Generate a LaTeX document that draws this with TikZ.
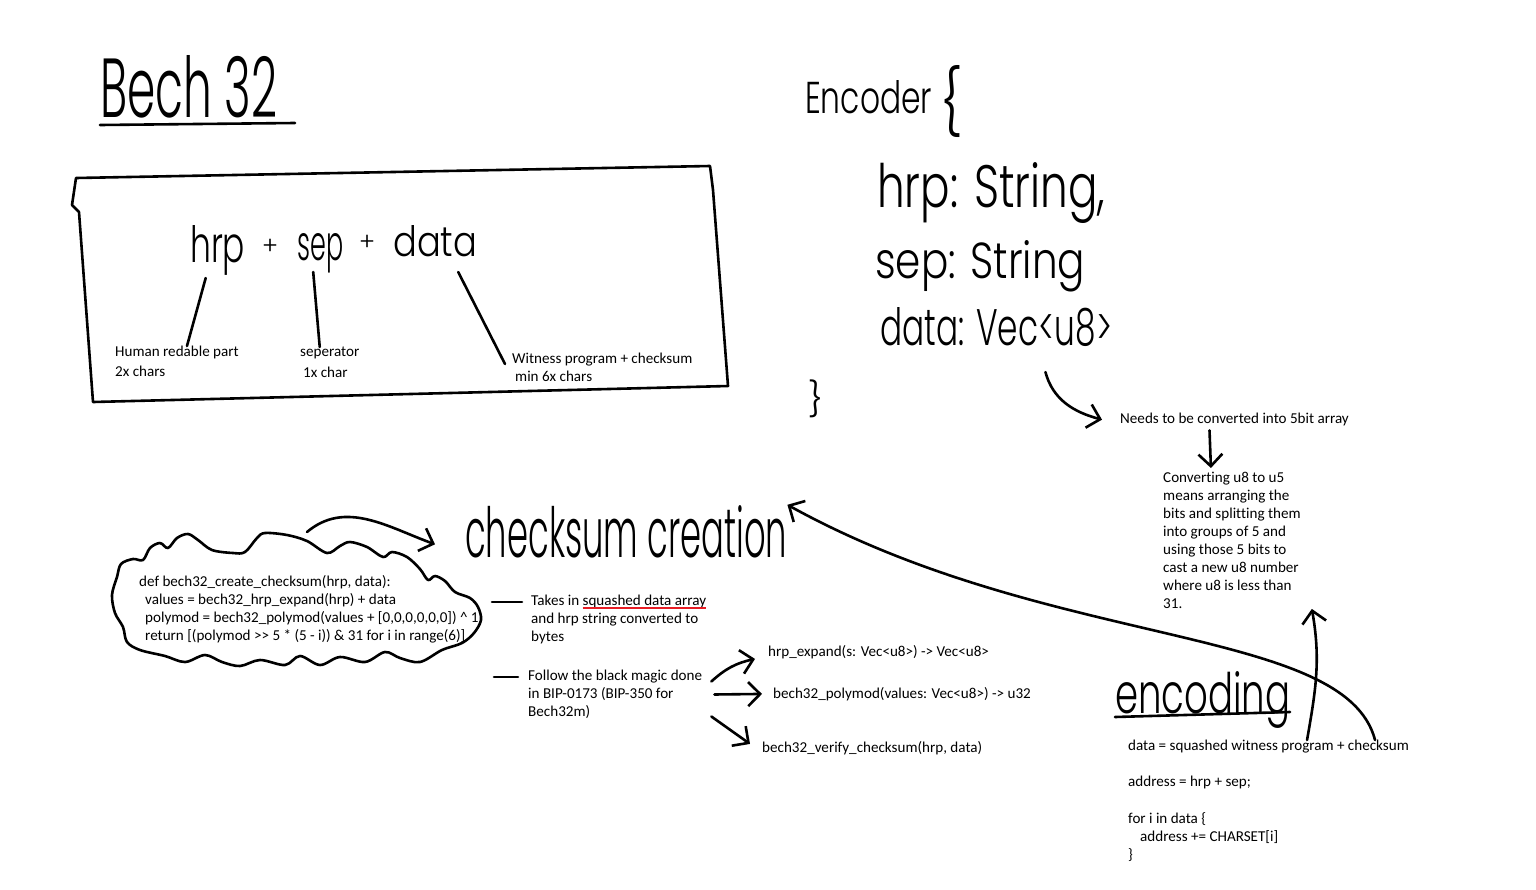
\documentclass[tikz,border=0pt]{standalone}
\usepackage{fontspec}
\setmainfont{Carlito}[Ligatures=NoCommon]
\newfontfamily\handfont{Poppins Light}
\usetikzlibrary{arrows.meta}
\usetikzlibrary{calc}

\definecolor{squigred}{RGB}{232,28,36}
\newcommand\notesize{\fontsize{15.1}{18}\selectfont}
% red pen stroke under a few words
\newcommand\squig[1]{\setbox0\hbox{#1}\copy0\llap{\color{squigred}\rule[-3.4pt]{\wd0}{2.1pt}}}

\begin{document}
\begin{tikzpicture}[
	x=1pt, y=-1pt,
	pen/.style={line width=2.6pt, line cap=round, line join=round},
	arr/.style={pen, -{Straight Barb[length=12pt, width=24pt]}},
	note/.style={inner sep=0pt, anchor=north west, align=left, font=\notesize, yshift=-2pt},
	hand/.style={inner sep=0pt, anchor=base west},
	brace/.style={inner sep=0pt, anchor=north west}]

\fill[white] (0,0) rectangle (1536,889);
\useasboundingbox (0,0) rectangle (1536,889);

% Title
\node[hand] (bech) at (100,117) {\resizebox{177pt}{62pt}{\handfont Bech 32}};
\draw[pen] (100,125) -- (295,123);

% Address layout box
\draw[pen] (76,178) -- (710,166) -- (713,190) -- (728,386) -- (93,402)
	-- (79,212) -- (72,205) -- cycle;

\node[hand] (hrp) at (190,262) {\resizebox{55pt}{37pt}{\handfont hrp}};
\node[inner sep=0pt] (plusA) at (270,247) {\resizebox{16pt}{!}{\handfont +}};
\node[hand] (sep) at (297,260) {\resizebox{46pt}{27pt}{\handfont sep}};
\node[inner sep=0pt] (plusB) at (367,243) {\resizebox{16pt}{!}{\handfont +}};
\node[hand] (data) at (393,256) {\resizebox{84pt}{31pt}{\handfont data}};

\node[note] (human) at (115,344) {Human redable part\\[2pt]2x chars};
\node[note] (sepnote) at (300,345) {seperator\\[3pt]\hspace*{3pt}1x char};
\node[note] (witness) at (512,351) {Witness program + checksum\\\hspace*{3pt}min 6x chars};

\draw[pen] ([shift={(-12pt,-16pt)}]hrp.base) -- ([xshift=10pt]human.north);
\draw[pen] ([shift={(-7pt,-12pt)}]sep.base) -- ([xshift=-10pt]sepnote.north);
\draw[pen] ([shift={(23pt,-16pt)}]data.base) -- ([shift={(-7pt,-11pt)}]witness.north west);

% Encoder struct
\node[hand] (encoder) at (805,113) {\resizebox{127pt}{33pt}{\handfont Encoder}};
\node[brace] (encopen) at (940,65) {\resizebox*{22pt}{72pt}{\handfont\{}};
\node[hand] (enchrp) at (877,207) {\resizebox{228pt}{45pt}{\handfont hrp: String,}};
\node[hand] (encsep) at (875,278) {\resizebox{210pt}{38pt}{\handfont sep: String}};
\node[hand] (encdata) at (880,345) {\resizebox{232pt}{38pt}{\handfont data: Vec<u8>}};
\node[brace] (encclose) at (808,380) {\resizebox*{15pt}{38pt}{\handfont\}}};

\node[note] (needs) at (1120,411) {Needs to be converted into 5bit array};
\node[note] (conv) at (1163,470) {Converting u8 to u5\\means arranging the\\bits and splitting them\\
	into groups of 5 and\\using those 5 bits to\\cast a new u8 number\\where u8 is less than\\31.};

\draw[arr] ([shift={(-67pt,-27pt)}]encdata.base east) to[out=-75, in=165] ([xshift=-18pt]needs.west);
\draw[arr] ([shift={(-25pt,-4pt)}]needs.south) -- ([shift={(-21pt,4pt)}]conv.north);

% Checksum
\draw[pen] plot[smooth cycle, tension=0.55] coordinates {
	(117,577) (121,564) (133,559) (143,560) (150,548) (160,543) (168,548)
	(177,538) (188,534) (198,540) (212,550) (233,553) (245,552) (257,538)
	(265,533) (287,535) (307,541) (327,553) (340,546) (350,542) (367,547)
	(383,557) (392,552) (407,557) (420,569) (428,580) (435,576) (445,581)
	(455,592) (470,598) (478,607) (481,620) (474,633) (462,643) (442,650)
	(420,662) (400,658) (385,652) (365,662) (340,657) (320,665) (300,656)
	(285,665) (260,660) (240,666) (222,662) (205,655) (185,662) (165,656)
	(140,650) (127,642) (123,627) (115,613) (112,595)};
\coordinate (cloudtop) at (307,532);

\node[note] (code) at (139,573) {def bech32\_create\_checksum(hrp, data):\\
	\hspace*{6pt}values = bech32\_hrp\_expand(hrp) + data\\
	\hspace*{6pt}polymod = bech32\_polymod(values + [0,0,0,0,0,0]) \^{} 1\\
	\hspace*{6pt}return [(polymod >{}> 5 * (5 - i)) \& 31 for i in range(6)]};

\node[hand] (checksum) at (465,557) {\resizebox{322pt}{52pt}{\handfont checksum creation}};
\draw[arr] (cloudtop) to[out=40, in=160] ([shift={(-30pt,-13pt)}]checksum.west);

\node[note] (takes) at (531,593) {Takes in \squig{squashed data array}\\and hrp string converted to\\bytes};
\node[note] (follow) at (528,668) {Follow the black magic done\\in BIP-0173 (BIP-350 for\\Bech32m)};
\draw[pen] ([shift={(-39pt,-7pt)}]takes.north west) -- ++(30,0);
\draw[pen] ([shift={(-34pt,-7pt)}]follow.north west) -- ++(24,0);

\node[note] (hrpexp) at (768,643) {hrp\_expand(s: Vec<u8>) -> Vec<u8>};
\node[note] (polymod) at (773,685) {bech32\_polymod(values: Vec<u8>) -> u32};
\node[note] (verify) at (762,739) {bech32\_verify\_checksum(hrp, data)};

\draw[arr] ([shift={(9pt,13pt)}]follow.east) to[bend left=15] ([shift={(-13pt,-7pt)}]hrpexp.west);
\draw[arr] ([xshift=12pt]follow.east) -- ([xshift=-11pt]polymod.west);
\draw[arr] ([shift={(9pt,-22pt)}]follow.east) -- ([shift={(-12pt,4pt)}]verify.west);

% Encoding
\node[hand] (encoding) at (1115,713) {\resizebox{175pt}{42pt}{\handfont encoding}};
\draw[pen] (1115,717) -- (1290,712);

\node[note] (wsdata) at (1128,738) {data = squashed witness program + checksum};
\node[note] (address) at (1128,774) {address = hrp + sep;};
\node[note] (loop) at (1128,810) {for i in data \{\\\hspace*{12pt}address += CHARSET[i]\\\}};

\draw[arr] ([xshift=-34pt]wsdata.north east) .. controls (1345,625) and (1050,650) .. (checksum.north east);
\draw[arr] ([xshift=-102pt]wsdata.north east) to[out=80, in=-80] ([xshift=11pt]conv.south east);

\end{tikzpicture}
\end{document}
